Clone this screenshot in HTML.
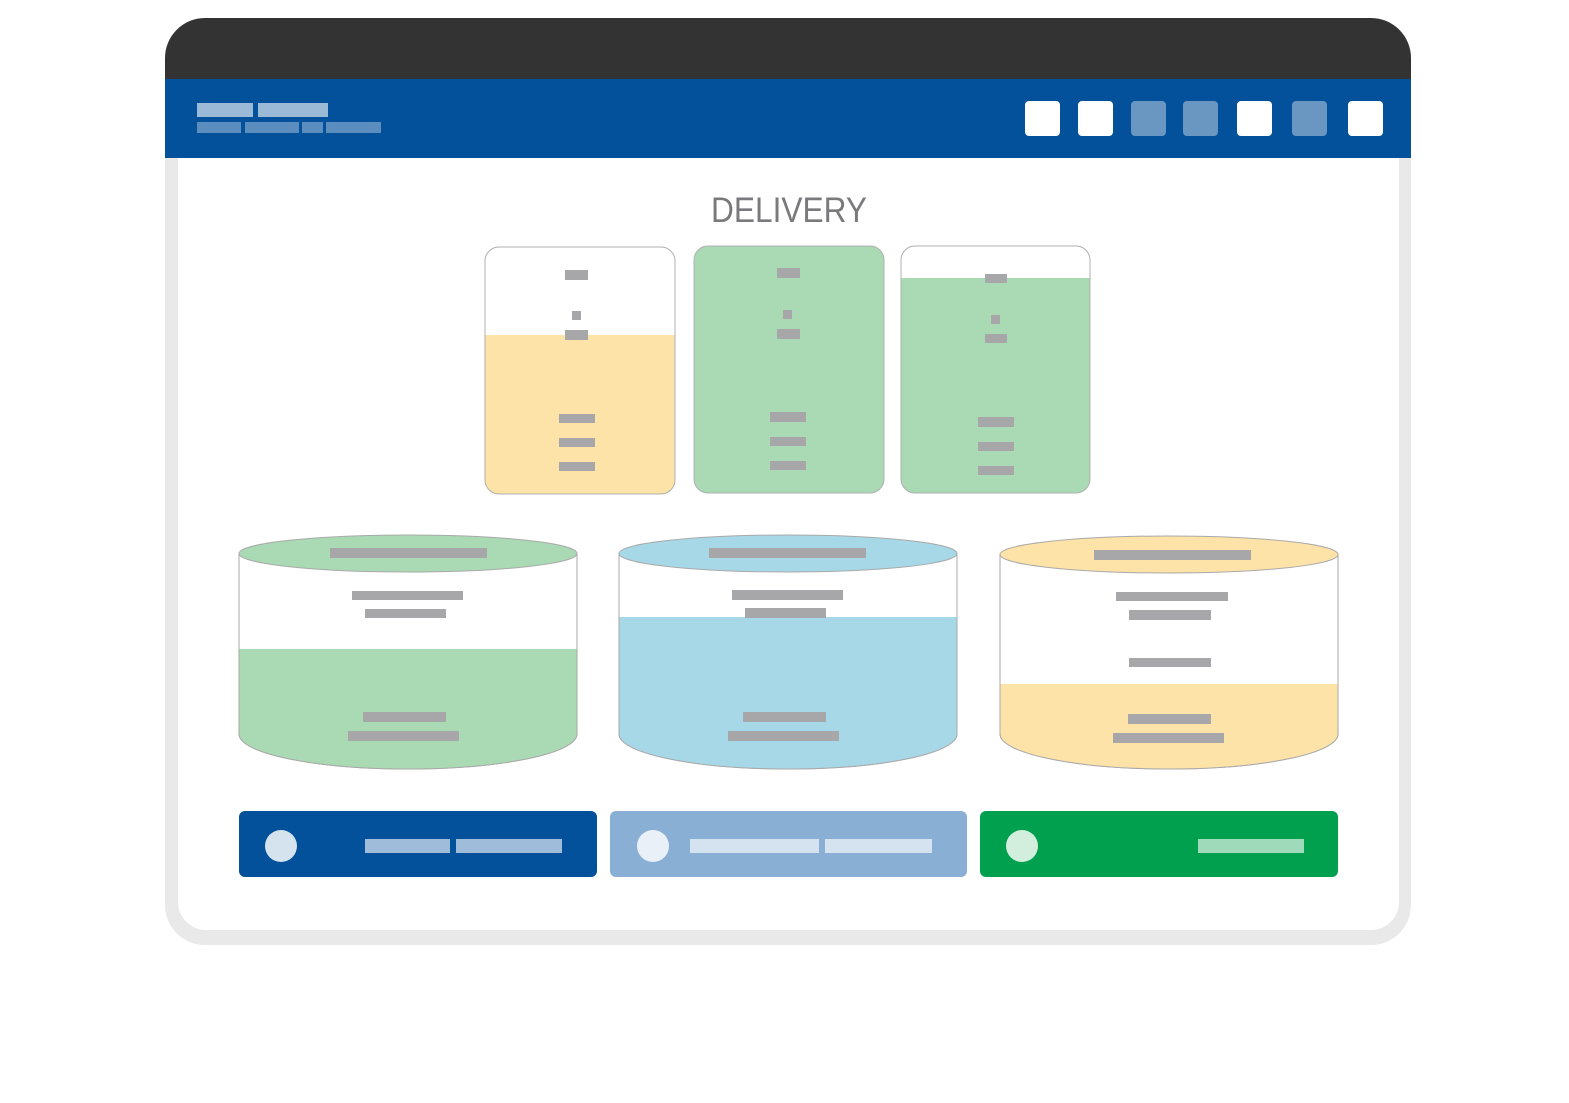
<!DOCTYPE html>
<html><head><meta charset="utf-8"><style>html,body{margin:0;padding:0;background:#fff}svg{display:block}</style></head>
<body>
<svg width="1569" height="1103" viewBox="0 0 1569 1103" xmlns="http://www.w3.org/2000/svg">
<rect width="1569" height="1103" fill="#fff"/>
<!-- frame -->
<rect x="165" y="18" width="1246" height="927" rx="40" fill="#e9e9e9"/>
<rect x="178" y="100" width="1221" height="830" rx="28" fill="#fff"/>
<path d="M165 79 V58 A40 40 0 0 1 205 18 H1371 A40 40 0 0 1 1411 58 V79 Z" fill="#333"/>
<rect x="165" y="79" width="1246" height="79" fill="#02519a"/>
<g fill="#9bbad8"><rect x="197" y="103" width="56" height="14"/><rect x="258" y="103" width="70" height="14"/></g>
<g fill="#5b8dbf"><rect x="197" y="122" width="44" height="11"/><rect x="245" y="122" width="54" height="11"/><rect x="302" y="122" width="21" height="11"/><rect x="326" y="122" width="55" height="11"/></g>
<g>
<rect x="1025" y="101" width="35" height="35" rx="4" fill="#fff"/>
<rect x="1078" y="101" width="35" height="35" rx="4" fill="#fff"/>
<rect x="1131" y="101" width="35" height="35" rx="4" fill="#6a97c2"/>
<rect x="1183" y="101" width="35" height="35" rx="4" fill="#6a97c2"/>
<rect x="1237" y="101" width="35" height="35" rx="4" fill="#fff"/>
<rect x="1292" y="101" width="35" height="35" rx="4" fill="#6a97c2"/>
<rect x="1348" y="101" width="35" height="35" rx="4" fill="#fff"/>
</g>
<text x="711" y="222" font-family="Liberation Sans, sans-serif" font-size="35" fill="#7a7a7c" textLength="156" lengthAdjust="spacingAndGlyphs">DELIVERY</text>
<defs>
<clipPath id="c1"><rect x="485" y="247" width="190" height="247" rx="14"/></clipPath>
<clipPath id="c3"><rect x="901" y="246" width="189" height="247" rx="14"/></clipPath>
</defs>
<!-- cards -->
<rect x="485" y="247" width="190" height="247" rx="14" fill="#fff"/>
<rect x="485" y="335" width="190" height="160" fill="#fde3a7" clip-path="url(#c1)"/>
<rect x="485" y="247" width="190" height="247" rx="14" fill="none" stroke="#b0b0b0"/>
<rect x="694" y="246" width="190" height="247" rx="14" fill="#a9dab4" stroke="#b0b0b0"/>
<rect x="901" y="246" width="189" height="247" rx="14" fill="#fff"/>
<rect x="901" y="278" width="189" height="216" fill="#a9dab4" clip-path="url(#c3)"/>
<rect x="901" y="246" width="189" height="247" rx="14" fill="none" stroke="#b0b0b0"/>
<g fill="#a7a7aa">
<rect x="565" y="270" width="23" height="10"/><rect x="572" y="311" width="9" height="9"/><rect x="565" y="330" width="23" height="10"/>
<rect x="559" y="414" width="36" height="9"/><rect x="559" y="438" width="36" height="9"/><rect x="559" y="462" width="36" height="9"/>
<rect x="777" y="268" width="23" height="10"/><rect x="783" y="310" width="9" height="9"/><rect x="777" y="329" width="23" height="10"/>
<rect x="770" y="412" width="36" height="10"/><rect x="770" y="437" width="36" height="9"/><rect x="770" y="461" width="36" height="9"/>
<rect x="985" y="274" width="22" height="9"/><rect x="991" y="315" width="9" height="9"/><rect x="985" y="334" width="22" height="9"/>
<rect x="978" y="417" width="36" height="10"/><rect x="978" y="442" width="36" height="9"/><rect x="978" y="466" width="36" height="9"/>
</g>
<!-- cylinders -->
<g stroke="#a9a9a9" stroke-width="1">
<path d="M239 553 V734 A169 35 0 0 0 577 734 V553 Z" fill="#fff"/>
<path d="M239 649 V734 A169 35 0 0 0 577 734 V649 Z" fill="#a9dab4" stroke="none"/>
<path d="M239 553 V734 A169 35 0 0 0 577 734 V553" fill="none"/>
<ellipse cx="408" cy="553.5" rx="169" ry="18.5" fill="#a9dab4"/>

<path d="M619 553 V734 A169 35 0 0 0 957 734 V553 Z" fill="#fff"/>
<path d="M619 617 V734 A169 35 0 0 0 957 734 V617 Z" fill="#a6d8e8" stroke="none"/>
<path d="M619 553 V734 A169 35 0 0 0 957 734 V553" fill="none"/>
<ellipse cx="788" cy="553.5" rx="169" ry="18.5" fill="#a6d8e8"/>

<path d="M1000 554 V734 A169 35 0 0 0 1338 734 V554 Z" fill="#fff"/>
<path d="M1000 684 V734 A169 35 0 0 0 1338 734 V684 Z" fill="#fde3a7" stroke="none"/>
<path d="M1000 554 V734 A169 35 0 0 0 1338 734 V554" fill="none"/>
<ellipse cx="1169" cy="554.5" rx="169" ry="18.5" fill="#fde3a7"/>
</g>
<g fill="#a7a7aa">
<rect x="330" y="548" width="157" height="10"/><rect x="352" y="591" width="111" height="9"/><rect x="365" y="609" width="81" height="9"/><rect x="363" y="712" width="83" height="10"/><rect x="348" y="731" width="111" height="10"/>
<rect x="709" y="548" width="157" height="10"/><rect x="732" y="590" width="111" height="10"/><rect x="745" y="608" width="81" height="10"/><rect x="743" y="712" width="83" height="10"/><rect x="728" y="731" width="111" height="10"/>
<rect x="1094" y="550" width="157" height="10"/><rect x="1116" y="592" width="112" height="9"/><rect x="1129" y="610" width="82" height="10"/><rect x="1129" y="658" width="82" height="9"/><rect x="1128" y="714" width="83" height="10"/><rect x="1113" y="733" width="111" height="10"/>
</g>
<!-- buttons -->
<rect x="239" y="811" width="358" height="66" rx="6" fill="#02519a"/>
<circle cx="281" cy="846" r="16" fill="#d5e3ef"/>
<rect x="365" y="839" width="85" height="14" fill="#9fbcda"/><rect x="456" y="839" width="106" height="14" fill="#9fbcda"/>
<rect x="610" y="811" width="357" height="66" rx="6" fill="#8aafd5"/>
<circle cx="653" cy="846" r="16" fill="#e9f0f8"/>
<rect x="690" y="839" width="129" height="14" fill="#d5e2f0"/><rect x="825" y="839" width="107" height="14" fill="#d5e2f0"/>
<rect x="980" y="811" width="358" height="66" rx="6" fill="#00a04f"/>
<circle cx="1022" cy="846" r="16" fill="#d2eedd"/>
<rect x="1198" y="839" width="106" height="14" fill="#9fdabb"/>
</svg>
</body></html>
